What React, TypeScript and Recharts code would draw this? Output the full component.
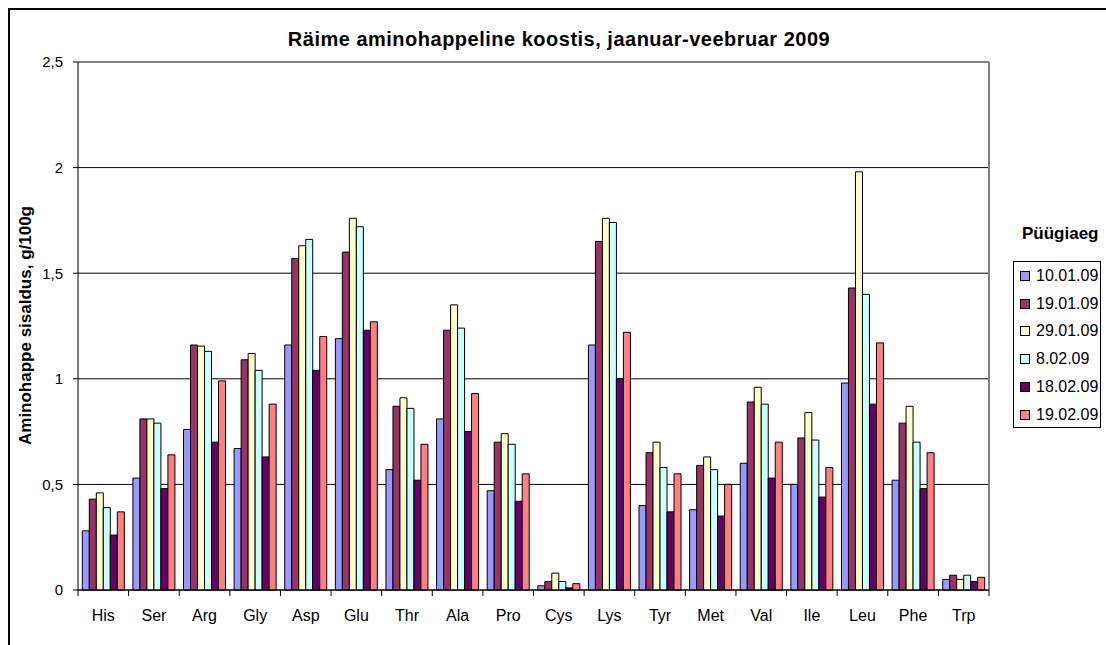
import React from "react";
import { BarChart, Bar, XAxis, YAxis, CartesianGrid, ReferenceLine } from "recharts";

// amino acids on the x axis
const categories = ["His", "Ser", "Arg", "Gly", "Asp", "Glu", "Thr", "Ala", "Pro", "Cys", "Lys", "Tyr", "Met", "Val", "Ile", "Leu", "Phe", "Trp"];

// values per sampling date, g/100g
const d100109 = [0.28, 0.53, 0.76, 0.67, 1.16, 1.19, 0.57, 0.81, 0.47, 0.02, 1.16, 0.4, 0.38, 0.6, 0.5, 0.98, 0.52, 0.05];
const d190109 = [0.43, 0.81, 1.16, 1.09, 1.57, 1.6, 0.87, 1.23, 0.7, 0.04, 1.65, 0.65, 0.59, 0.89, 0.72, 1.43, 0.79, 0.07];
const d290109 = [0.46, 0.81, 1.155, 1.12, 1.63, 1.76, 0.91, 1.35, 0.74, 0.08, 1.76, 0.7, 0.63, 0.96, 0.84, 1.98, 0.87, 0.05];
const d080209 = [0.39, 0.79, 1.13, 1.04, 1.66, 1.72, 0.86, 1.24, 0.69, 0.04, 1.74, 0.58, 0.57, 0.88, 0.71, 1.4, 0.7, 0.07];
const d180209 = [0.26, 0.48, 0.7, 0.63, 1.04, 1.23, 0.52, 0.75, 0.42, 0.01, 1.0, 0.37, 0.35, 0.53, 0.44, 0.88, 0.48, 0.04];
const d190209 = [0.37, 0.64, 0.99, 0.88, 1.2, 1.27, 0.69, 0.93, 0.55, 0.03, 1.22, 0.55, 0.5, 0.7, 0.58, 1.17, 0.65, 0.06];

const yTicks = [0, 0.5, 1, 1.5, 2, 2.5];

const series = [
  { key: "s1", name: "10.01.09", color: "#9999FF", values: d100109 },
  { key: "s2", name: "19.01.09", color: "#993366", values: d190109 },
  { key: "s3", name: "29.01.09", color: "#FFFFCC", values: d290109 },
  { key: "s4", name: "8.02.09", color: "#CCFFFF", values: d080209 },
  { key: "s5", name: "18.02.09", color: "#660066", values: d180209 },
  { key: "s6", name: "19.02.09", color: "#FF8080", values: d190209 },
];

const data = categories.map((cat, i) => {
  const row: Record<string, string | number> = { cat };
  series.forEach(s => { row[s.key] = s.values[i]; });
  return row;
});

// layout
const W = 1106;
const H = 645;
const PLOT_LEFT = 78;
const PLOT_RIGHT = 989;
const PLOT_TOP = 62;
const PLOT_BOTTOM = 590;
const HALF_BAND = (PLOT_RIGHT - PLOT_LEFT) / categories.length / 2;
const FONT = "Arial, 'Liberation Sans', sans-serif";

const XTick = (props: any) => {
  const { x, y, payload, index } = props;
  const isLast = index === categories.length - 1;
  return (
    <g>
      <line x1={x - HALF_BAND} x2={x - HALF_BAND} y1={y} y2={y + 6} stroke="#000" />
      {isLast && <line x1={x + HALF_BAND} x2={x + HALF_BAND} y1={y} y2={y + 6} stroke="#000" />}
      <text x={x} y={y + 31} textAnchor="middle" fill="#000" fontSize={16} fontFamily={FONT}>
        {payload.value}
      </text>
    </g>
  );
};

export default function App() {
  return (
    <div style={{ position: "fixed", left: 0, top: 0, width: W, height: H, overflow: "hidden", background: "#fff", fontFamily: FONT }}>
      <div style={{ position: "absolute", left: 8, top: 8, width: 1300, height: 900, border: "2px solid #000" }} />

      <div style={{ position: "absolute", left: 0, width: 1118, top: 29, textAlign: "center", fontWeight: "bold", fontSize: 20, lineHeight: "20px", letterSpacing: 0.5, color: "#000" }}>
        Räime aminohappeline koostis, jaanuar-veebruar 2009
      </div>

      <div style={{ position: "absolute", left: 25 - 200, width: 400, top: 326 - 9, lineHeight: "17px", textAlign: "center", fontWeight: "bold", fontSize: 17, transform: "rotate(-90deg)", color: "#000" }}>
        Aminohappe sisaldus, g/100g
      </div>

      <div style={{ position: "absolute" }}>
        <BarChart
          width={W}
          height={H}
          data={data}
          margin={{ top: PLOT_TOP, right: W - PLOT_RIGHT, bottom: 0, left: 0 }}
          barCategoryGap="8.5%"
          barGap={0}
        >
          <CartesianGrid vertical={false} stroke="#000" />
          <CartesianGrid
            horizontal={false}
            stroke="#808080"
            strokeWidth={2}
            verticalCoordinatesGenerator={({ offset }: any) => [offset.left + offset.width]}
          />
          <ReferenceLine y={2.5} stroke="#808080" strokeWidth={2} />
          <XAxis
            dataKey="cat"
            axisLine={{ stroke: "#000" }}
            tickLine={false}
            tickSize={0}
            tickMargin={0}
            height={H - PLOT_BOTTOM}
            interval={0}
            tick={<XTick />}
          />
          <YAxis
            width={PLOT_LEFT}
            domain={[0, 2.5]}
            ticks={yTicks}
            axisLine={{ stroke: "#000" }}
            tickLine={{ stroke: "#000" }}
            tickSize={5}
            tickMargin={10}
            tick={{ fill: "#000", fontSize: 15, fontFamily: FONT }}
            tickFormatter={(v: number) => String(v).replace(".", ",")}
          />
          {series.map(s => (
            <Bar
              key={s.key}
              dataKey={s.key}
              name={s.name}
              fill={s.color}
              stroke="#000"
              strokeWidth={1}
              isAnimationActive={false}
            />
          ))}
        </BarChart>
      </div>

      <div style={{ position: "absolute", left: 1022, top: 224, fontWeight: "bold", fontSize: 17, lineHeight: "20px", color: "#000" }}>
        Püügiaeg
      </div>
      <div style={{ position: "absolute", left: 1013, top: 261, width: 88, height: 167, boxSizing: "border-box", border: "1px solid #000", background: "#fff" }}>
        {series.map((s, i) => (
          <div key={s.key} style={{ position: "absolute", left: 6, top: 5 + i * 27.7, height: 18, display: "flex", alignItems: "center", fontSize: 16, color: "#000" }}>
            <span style={{ display: "inline-block", width: 8, height: 8, background: s.color, border: "1px solid #000", marginRight: 6 }} />
            {s.name}
          </div>
        ))}
      </div>
    </div>
  );
}
